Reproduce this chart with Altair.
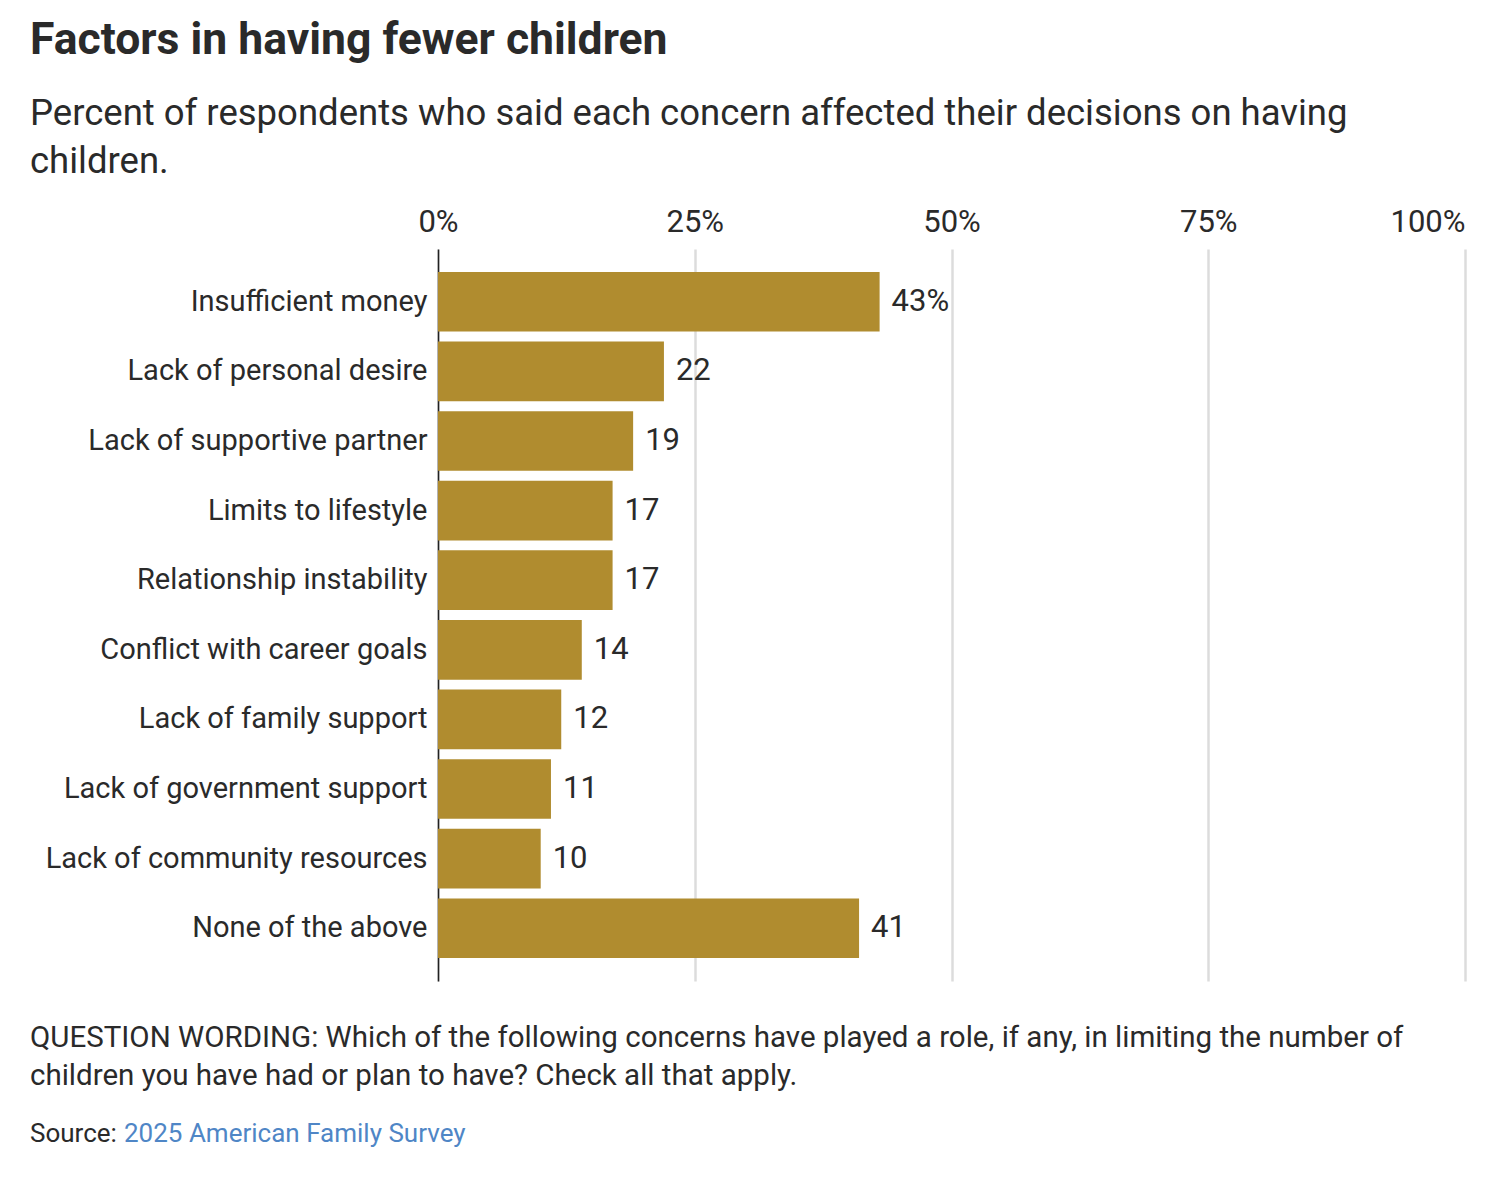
import altair as alt
import pandas as pd

categories = [
    "Insufficient money",
    "Lack of personal desire",
    "Lack of supportive partner",
    "Limits to lifestyle",
    "Relationship instability",
    "Conflict with career goals",
    "Lack of family support",
    "Lack of government support",
    "Lack of community resources",
    "None of the above",
]
values = [43, 22, 19, 17, 17, 14, 12, 11, 10, 41]
labels = [f"{v}%" if i == 0 else f"{v}" for i, v in enumerate(values)]
tick_values = [0, 25, 50, 75, 100]

title_text = "Factors in having fewer children"
subtitle_lines = [
    "Percent of respondents who said each concern affected their decisions on having",
    "children.",
]
footer_lines = [
    "QUESTION WORDING: Which of the following concerns have played a role, if any, in limiting the number of",
    "children you have had or plan to have? Check all that apply.",
]
source_prefix = "Source:"
source_link = "2025 American Family Survey"

FONT = "Roboto"
TEXT = "#2a2a2a"
BAR = "#b08c2f"
LINK = "#4f86c6"

df = pd.DataFrame({"category": categories, "value": values, "label": labels})

W, H = 1027, 732

y_enc = alt.Y(
    "category:N",
    sort=categories,
    title=None,
    scale=alt.Scale(paddingInner=0.143, paddingOuter=0.33),
    axis=alt.Axis(
        domain=True, domainColor="#222222", domainWidth=1.5, ticks=False,
        labelPadding=11, labelFontSize=29, labelColor=TEXT, labelFont=FONT,
        grid=False, labelLimit=500,
    ),
)
x_enc = alt.X(
    "value:Q",
    title=None,
    scale=alt.Scale(domain=[0, 100], nice=False),
    axis=alt.Axis(
        orient="top", values=tick_values, labelExpr="datum.value + '%'",
        labelFlush=False,
        labelAlign=alt.ExprRef("datum.value == 100 ? 'right' : 'center'"),
        domain=False, ticks=False, grid=True, gridColor="#dcdcdc", gridWidth=2.5,
        labelPadding=11, labelFontSize=31, labelColor=TEXT, labelFont=FONT,
    ),
)

base = alt.Chart(df)
bars = base.mark_bar(color=BAR).encode(x=x_enc, y=y_enc)
text = base.mark_text(align="left", baseline="middle", dx=12, fontSize=31, font=FONT, color=TEXT).encode(
    x=x_enc, y=y_enc, text="label:N",
)

def line(t, x, y, size, color):
    return alt.Chart(pd.DataFrame({"t": [t]})).mark_text(
        align="left", baseline="alphabetic", fontSize=size, font=FONT, color=color
    ).encode(x=alt.value(x), y=alt.value(y), text="t:N")

foot1 = line(footer_lines[0], -408, 798, 29.5, TEXT)
foot2 = line(footer_lines[1], -408, 836, 29.5, TEXT)
src1 = line(source_prefix, -408, 893, 26, TEXT)
src2 = line(source_link, -314, 893, 26, LINK)

chart = alt.layer(bars, text, foot1, foot2, src1, src2).properties(
    width=W,
    height=H,
    background="white",
    padding={"left": 22, "top": 10, "right": 20, "bottom": 20},
    title=alt.TitleParams(
        text=title_text,
        subtitle=subtitle_lines,
        anchor="start",
        frame="bounds",
        font=FONT,
        fontSize=44.5,
        fontWeight="bold",
        color=TEXT,
        subtitleFont=FONT,
        subtitleFontSize=36.5,
        subtitleColor=TEXT,
        subtitleLineHeight=48,
        subtitlePadding=32,
        offset=25,
    ),
).configure_view(strokeWidth=0)

chart.save("out.html", embed_options={"renderer": "svg", "actions": False})
